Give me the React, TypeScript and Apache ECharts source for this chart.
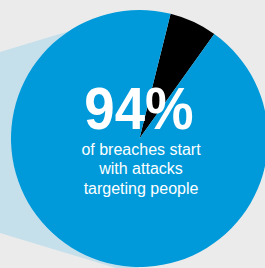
import React, { useEffect, useRef } from "react";
import * as echarts from "echarts";

const categories = ["Other", "Attacks targeting people"];
const values = [6, 94];
const sliceColors = ["#000000", "#009ADA"];
const headline = "94%";
const subtitleLines = ["of breaches start", "with attacks", "targeting people"];

export default function App() {
  const ref = useRef<HTMLDivElement>(null);
  useEffect(() => {
    document.body.style.margin = "0";
    const chart = echarts.init(ref.current!, null, { renderer: "svg" });
    const font = "'Liberation Sans', Arial, sans-serif";
    chart.setOption({
      animation: false,
      backgroundColor: "#EBEBEB",
      series: [
        {
          type: "pie",
          center: [139.5, 138.5],
          radius: 128.5,
          startAngle: 76,
          clockwise: true,
          silent: true,
          label: { show: false },
          labelLine: { show: false },
          itemStyle: { borderWidth: 0 },
          data: categories.map((name, i) => ({
            name,
            value: values[i],
            itemStyle: { color: sliceColors[i] },
          })),
          z: 2,
        },
      ],
      graphic: [
        {
          type: "polygon",
          z: -10,
          shape: {
            points: [
              [0, 52],
              [139, 10],
              [139, 275],
              [0, 233],
            ],
          },
          style: { fill: "#C5DFEB" },
        },
        {
          type: "text",
          z: 100,
          x: 139,
          y: 108.5,
          scaleX: 0.91,
          style: {
            text: headline,
            font: `bold 60px ${font}`,
            lineHeight: 44,
            fill: "#FFFFFF",
            textAlign: "center",
            textVerticalAlign: "middle",
          },
        },
        ...subtitleLines.map((t, i) => ({
          type: "text",
          z: 100,
          x: 141,
          y: 149 + i * 19.5,
          style: {
            text: t,
            font: `16px ${font}`,
            fill: "#FFFFFF",
            textAlign: "center",
            textVerticalAlign: "middle",
          },
        })),
      ],
    });
    return () => chart.dispose();
  }, []);
  return (
    <div
      ref={ref}
      style={{ position: "absolute", left: 0, top: 0, width: 265, height: 268 }}
    />
  );
}
